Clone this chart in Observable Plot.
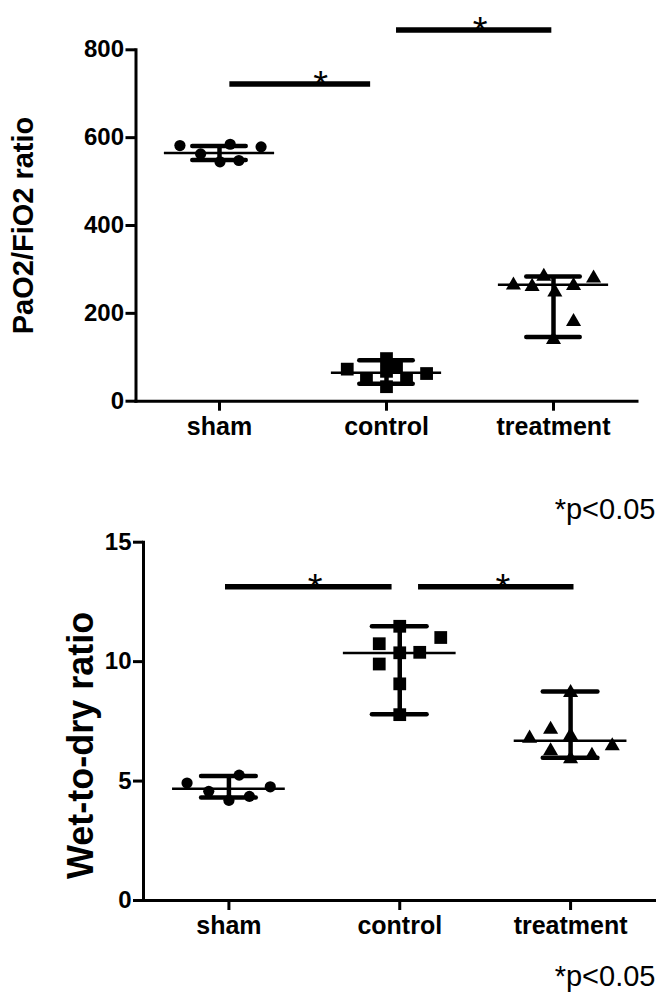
<!DOCTYPE html>
<html><head><meta charset="utf-8">
<script src="https://cdn.jsdelivr.net/npm/d3@7"></script>
<script src="https://cdn.jsdelivr.net/npm/@observablehq/plot@0.6"></script>
<style>
html,body{margin:0;padding:0;background:#fff;}
#chart svg{display:block;}
</style></head>
<body><div id="chart"></div>
<script>
const groups = ["sham", "control", "treatment"];
const shapes = ["circle", "square", "triangle"];
const symbolR = [5.6, 7.2, 5.6];

// PaO2/FiO2 ratio: individual values and their horizontal scatter (category units)
const pfSham = [582, 563, 545, 585, 548, 579];
const pfShamPos = [-0.237, -0.113, 0.003, 0.064, 0.116, 0.249];
const pfControl = [73, 50, 97, 68, 33, 78, 50, 63];
const pfControlPos = [-0.235, -0.12, 0, 0, 0, 0.06, 0.12, 0.24];
const pfTreat = [264, 261, 284, 248, 140, 263, 181, 280];
const pfTreatPos = [-0.24, -0.128, -0.058, 0.008, 0, 0.12, 0.12, 0.24];
const pfMedian = [565, 65, 265];
const pfQ1 = [549, 40, 146];
const pfQ3 = [581, 93, 284];
const pfTicks = [0, 200, 400, 600, 800];
const pfSigFrom = [0.062, 1.06];
const pfSigTo = [0.905, 1.99];
const pfSigLevel = [722, 845];
const pfStarAt = [0.605, 1.56];

// Wet-to-dry ratio
const wdSham = [4.92, 4.57, 4.19, 5.25, 4.36, 4.76];
const wdShamPos = [-0.245, -0.118, 0, 0.06, 0.12, 0.242];
const wdControl = [11.48, 10.75, 11.01, 10.37, 10.39, 9.9, 9.07, 7.78];
const wdControlPos = [0, -0.12, 0.24, 0, 0.117, -0.12, 0, 0];
const wdTreat = [8.7, 7.16, 6.79, 6.9, 6.26, 5.93, 6.07, 6.47];
const wdTreatPos = [0, -0.117, -0.24, 0, -0.117, 0, 0.125, 0.244];
const wdMedian = [4.68, 10.36, 6.69];
const wdQ1 = [4.31, 7.8, 5.98];
const wdQ3 = [5.21, 11.48, 8.75];
const wdTicks = [0, 5, 10, 15];
const wdSigFrom = [-0.02, 1.11];
const wdSigTo = [0.955, 2.02];
const wdSigLevel = [13.14, 13.14];
const wdStarAt = [0.505, 1.604];

const pText = "*p<0.05";
const FONT = "'Liberation Sans', Arial, Helvetica, sans-serif";

function pts(vals, pos, g) { return vals.map((v, i) => ({g, x: g + pos[i], v})); }

function panel(o) {
  const summ = groups.map((name, g) => ({g, median: o.median[g], q1: o.q1[g], q3: o.q3[g]}));
  const sig = o.sigFrom.map((a, i) => ({x1: a, x2: o.sigTo[i], y: o.sigLevel[i], star: o.starAt[i]}));
  return Plot.plot({
    width: 656,
    height: o.height,
    marginTop: o.marginTop,
    marginBottom: o.marginBottom,
    marginLeft: o.marginLeft,
    marginRight: o.marginRight,
    style: {fontFamily: FONT, background: "#fff", color: "#000", overflow: "visible"},
    x: {type: "linear", domain: [-0.5, 2.5]},
    y: {domain: [0, o.ticks[o.ticks.length - 1]]},
    marks: [
      Plot.frame({anchor: "left", strokeWidth: 3, stroke: "#000"}),
      Plot.frame({anchor: "bottom", strokeWidth: 3, stroke: "#000"}),
      Plot.axisY({ticks: o.ticks, tickSize: 10, tickPadding: 2, fontSize: 24, fontWeight: "bold", strokeWidth: 3, label: null, tickFormat: d => String(d)}),
      Plot.axisX({ticks: [0, 1, 2], tickFormat: i => groups[i], tickSize: 10, tickPadding: 6, fontSize: 25, fontWeight: "bold", strokeWidth: 3, label: null}),
      Plot.ruleY(summ, {x1: d => d.g - 0.33, x2: d => d.g + 0.33, y: "median", strokeWidth: 2.5, stroke: "#000"}),
      Plot.ruleX(summ, {x: "g", y1: "q1", y2: "q3", strokeWidth: 4.5, stroke: "#000"}),
      Plot.ruleY(summ, {x1: d => d.g - 0.16, x2: d => d.g + 0.16, y: "q1", strokeWidth: 4.5, strokeLinecap: "round", stroke: "#000"}),
      Plot.ruleY(summ, {x1: d => d.g - 0.16, x2: d => d.g + 0.16, y: "q3", strokeWidth: 4.5, strokeLinecap: "round", stroke: "#000"}),
      ...o.points.map((p, g) => Plot.dot(p, {x: "x", y: "v", symbol: shapes[g], r: symbolR[g], fill: "#000", stroke: "none"})),
      Plot.ruleY(sig, {x1: "x1", x2: "x2", y: "y", strokeWidth: 5.5, stroke: "#000"}),
      Plot.text(sig, {x: "star", y: "y", text: () => "*", fontSize: 38, fontWeight: "normal", lineAnchor: "bottom", dy: 14, fill: "#000"}),
      Plot.text([o.title], {frameAnchor: "left", rotate: -90, dx: o.titleDx, dy: o.titleDy, fontSize: o.titleSize, fontWeight: "bold", textAnchor: "middle", lineAnchor: "middle", fill: "#000"}),
      Plot.text([pText], {frameAnchor: "bottom-right", textAnchor: "end", lineAnchor: "bottom", dx: o.pDx, dy: o.pDy, fontSize: 29, fontWeight: "normal", fill: "#000"})
    ]
  });
}

const topPanel = panel({
  height: 530, marginTop: 49.3, marginBottom: 129.3, marginLeft: 135.5, marginRight: 19.5,
  ticks: pfTicks,
  points: [pts(pfSham, pfShamPos, 0), pts(pfControl, pfControlPos, 1), pts(pfTreat, pfTreatPos, 2)],
  median: pfMedian, q1: pfQ1, q3: pfQ3,
  sigFrom: pfSigFrom, sigTo: pfSigTo, sigLevel: pfSigLevel, starAt: pfStarAt,
  title: "PaO2/FiO2 ratio", titleDx: -112.5, titleDy: 0, titleSize: 29,
  pDx: 18.5, pDy: 118
});
const bottomPanel = panel({
  height: 464, marginTop: 11.7, marginBottom: 94, marginLeft: 143, marginRight: 0.5,
  ticks: wdTicks,
  points: [pts(wdSham, wdShamPos, 0), pts(wdControl, wdControlPos, 1), pts(wdTreat, wdTreatPos, 2)],
  median: wdMedian, q1: wdQ1, q3: wdQ3,
  sigFrom: wdSigFrom, sigTo: wdSigTo, sigLevel: wdSigLevel, starAt: wdStarAt,
  title: "Wet-to-dry ratio", titleDx: -62, titleDy: 24, titleSize: 36,
  pDx: -0.5, pDy: 85
});
document.getElementById("chart").append(topPanel, bottomPanel);
</script>
</body></html>
